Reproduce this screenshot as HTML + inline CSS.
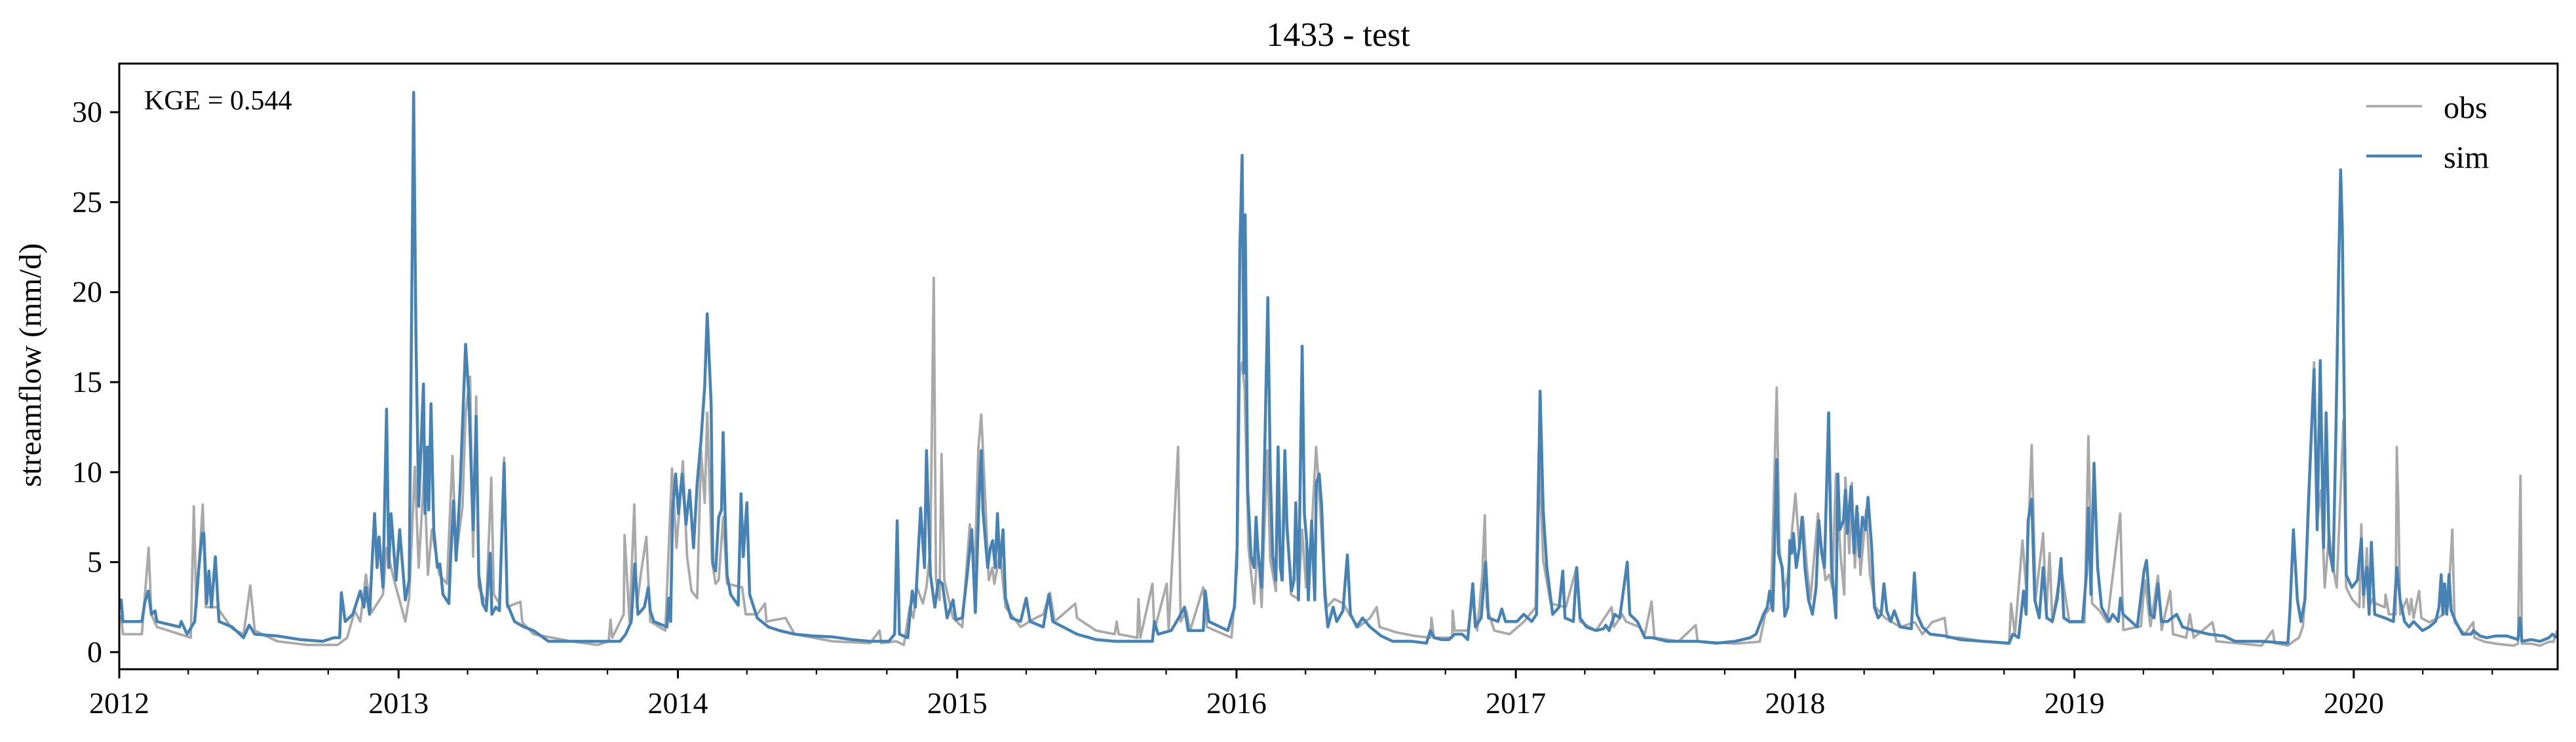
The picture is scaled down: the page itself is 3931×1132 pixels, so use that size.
<!DOCTYPE html>
<html><head><meta charset="utf-8">
<style>
html,body{margin:0;padding:0;background:#fff;}
svg{display:block;font-family:"Liberation Serif",serif;}
</style></head>
<body>
<svg id="chart" width="3931" height="1132" viewBox="0 0 3931 1132" xmlns="http://www.w3.org/2000/svg">
<rect width="3931" height="1132" fill="#fff"/>
<text x="2042" y="70" font-size="52" text-anchor="middle">1433 - test</text>
<text transform="translate(62,557) rotate(-90)" font-size="48" text-anchor="middle">streamflow (mm/d)</text>
<defs><clipPath id="plotclip"><rect x="182" y="97" width="3721" height="924"/></clipPath></defs>
<g id="series" clip-path="url(#plotclip)"></g>
<g id="axes"></g>
<text x="220" y="167" font-size="42">KGE = 0.544</text>
<g>
<line x1="3611" y1="162" x2="3696" y2="162" stroke="#a9a9a9" stroke-width="3.8"/>
<text x="3729" y="180" font-size="48">obs</text>
<line x1="3611" y1="238" x2="3696" y2="238" stroke="#4682b4" stroke-width="4.5"/>
<text x="3729" y="256" font-size="48">sim</text>
</g>
</svg>
<script>
const yTicks = [0, 5, 10, 15, 20, 25, 30];
const xYears = [2012, 2013, 2014, 2015, 2016, 2017, 2018, 2019, 2020];
const xDomain = [2012.0, 2020.73];
const yDomain = [-0.95, 32.7];

const simData = [[2012.000,2.4],[2012.007,2.9],[2012.013,1.7],[2012.081,1.7],[2012.092,2.8],[2012.104,3.4],[2012.115,2.1],[2012.128,2.3],[2012.135,1.7],[2012.216,1.4],[2012.222,1.7],[2012.243,1.0],[2012.270,1.7],[2012.286,4.9],[2012.297,6.6],[2012.303,6.6],[2012.313,2.7],[2012.321,4.5],[2012.330,2.5],[2012.344,5.3],[2012.357,1.7],[2012.404,1.4],[2012.445,0.8],[2012.465,1.5],[2012.485,1.0],[2012.566,0.9],[2012.647,0.7],[2012.728,0.6],[2012.768,0.8],[2012.789,0.8],[2012.795,3.3],[2012.809,1.7],[2012.836,2.1],[2012.863,3.4],[2012.876,2.5],[2012.883,3.6],[2012.896,2.1],[2012.914,7.7],[2012.923,4.7],[2012.930,6.4],[2012.944,3.6],[2012.957,13.5],[2012.965,4.7],[2012.973,7.7],[2012.991,4.0],[2013.004,6.8],[2013.024,2.9],[2013.038,4.0],[2013.054,31.1],[2013.062,17.6],[2013.072,8.1],[2013.089,14.9],[2013.095,7.7],[2013.103,11.4],[2013.108,7.9],[2013.116,13.8],[2013.126,6.8],[2013.139,4.7],[2013.148,4.9],[2013.159,3.2],[2013.180,2.7],[2013.186,5.1],[2013.197,8.4],[2013.206,5.1],[2013.220,9.0],[2013.240,17.1],[2013.251,14.4],[2013.260,10.1],[2013.267,6.8],[2013.278,13.1],[2013.287,4.3],[2013.301,2.7],[2013.314,2.3],[2013.328,5.5],[2013.334,2.1],[2013.348,2.5],[2013.361,2.3],[2013.378,10.5],[2013.389,2.7],[2013.415,1.7],[2013.449,1.4],[2013.483,1.2],[2013.537,0.6],[2013.618,0.6],[2013.698,0.6],[2013.752,0.6],[2013.793,0.6],[2013.813,1.0],[2013.833,1.7],[2013.846,4.9],[2013.857,2.1],[2013.880,2.5],[2013.894,3.6],[2013.901,2.3],[2013.914,1.7],[2013.961,1.4],[2013.967,3.0],[2013.974,1.7],[2013.981,7.9],[2013.992,9.9],[2014.002,7.7],[2014.015,9.9],[2014.029,7.1],[2014.042,9.0],[2014.056,5.8],[2014.069,9.4],[2014.083,11.8],[2014.096,14.8],[2014.105,18.8],
[2014.119,13.8],[2014.125,4.9],[2014.135,4.5],[2014.146,7.5],[2014.156,7.9],[2014.162,12.2],[2014.169,7.7],[2014.176,4.3],[2014.189,3.2],[2014.216,2.6],[2014.226,8.8],[2014.234,5.3],[2014.247,8.3],[2014.257,3.2],[2014.284,1.9],[2014.324,1.4],[2014.364,1.2],[2014.418,1.0],[2014.486,0.9],[2014.553,0.85],[2014.621,0.7],[2014.688,0.6],[2014.755,0.6],[2014.776,1.0],[2014.785,7.3],[2014.793,1.0],[2014.823,0.8],[2014.839,3.4],[2014.850,2.5],[2014.869,8.0],[2014.883,4.7],[2014.890,11.2],[2014.904,4.3],[2014.920,2.5],[2014.933,4.0],[2014.947,3.8],[2014.964,1.9],[2014.985,2.9],[2014.995,1.8],[2015.018,1.9],[2015.036,4.3],[2015.052,6.8],[2015.065,2.2],[2015.079,9.0],[2015.086,11.2],[2015.092,7.9],[2015.109,4.7],[2015.119,5.8],[2015.127,6.2],[2015.136,4.7],[2015.144,7.7],[2015.153,4.7],[2015.164,6.8],[2015.173,3.0],[2015.193,1.9],[2015.227,1.7],[2015.247,3.0],[2015.261,1.7],[2015.308,1.4],[2015.328,3.2],[2015.342,1.7],[2015.429,1.0],[2015.497,0.7],[2015.564,0.6],[2015.632,0.6],[2015.699,0.6],[2015.706,1.7],[2015.719,1.0],[2015.766,1.2],[2015.793,1.9],[2015.814,2.5],[2015.827,1.2],[2015.881,1.2],[2015.888,3.4],[2015.901,1.7],[2015.969,1.2],[2015.993,2.5],[2016.002,5.8],[2016.012,22.4],[2016.020,27.6],[2016.027,15.5],[2016.031,24.3],[2016.040,9.0],[2016.052,5.3],[2016.063,4.7],[2016.070,7.5],[2016.076,5.8],[2016.090,3.6],[2016.101,11.2],[2016.112,19.7],
[2016.121,9.9],[2016.130,5.3],[2016.141,4.0],[2016.149,11.4],[2016.157,4.7],[2016.164,4.0],[2016.173,11.2],[2016.181,6.8],[2016.197,3.4],[2016.206,4.0],[2016.212,8.3],[2016.222,2.9],[2016.235,17.0],[2016.243,7.7],[2016.251,6.2],[2016.257,2.9],[2016.269,7.3],[2016.280,2.9],[2016.286,9.4],[2016.296,9.9],[2016.305,8.1],[2016.316,3.2],[2016.327,1.4],[2016.346,2.5],[2016.359,1.7],[2016.381,2.3],[2016.397,5.4],[2016.408,2.1],[2016.431,1.4],[2016.451,1.9],[2016.478,1.4],[2016.518,0.9],[2016.559,0.6],[2016.626,0.6],[2016.680,0.5],[2016.694,1.2],[2016.707,0.8],[2016.734,0.7],[2016.761,0.7],[2016.781,1.0],[2016.808,1.0],[2016.828,0.7],[2016.846,3.8],[2016.855,1.4],[2016.876,1.9],[2016.892,5.0],[2016.902,1.9],[2016.936,1.7],[2016.950,2.4],[2016.963,1.7],[2017.004,1.7],[2017.028,2.1],[2017.057,1.7],[2017.074,2.1],[2017.087,14.5],[2017.098,7.9],[2017.111,4.7],[2017.132,2.1],[2017.155,2.5],[2017.168,4.5],[2017.176,1.9],[2017.206,1.7],[2017.218,4.7],[2017.230,1.9],[2017.253,1.4],[2017.287,1.2],[2017.314,1.3],[2017.322,1.5],[2017.334,1.2],[2017.354,2.1],[2017.372,1.9],[2017.399,5.0],[2017.408,2.1],[2017.435,1.7],[2017.462,0.8],[2017.489,0.8],[2017.543,0.6],[2017.651,0.6],[2017.718,0.5],[2017.785,0.6],[2017.839,0.8],[2017.860,1.0],[2017.887,2.1],[2017.900,2.5],[2017.909,3.4],[2017.920,2.3],[2017.934,10.7],[2017.940,5.5],[2017.954,4.7],[2017.963,2.0],[2017.974,2.5],[2017.981,6.2],[2017.988,5.5],[2017.994,6.6],[2018.004,4.7],[2018.015,5.8],[2018.025,7.5],[2018.035,4.7],[2018.048,2.9],[2018.062,2.1],[2018.075,3.6],[2018.085,7.3],[2018.095,5.5],[2018.105,4.7],[2018.120,13.3],[2018.130,4.7],
[2018.146,1.9],[2018.153,9.9],[2018.160,6.8],[2018.173,7.3],[2018.180,9.0],[2018.187,6.6],[2018.200,9.2],[2018.211,5.5],[2018.221,8.1],[2018.230,5.3],[2018.241,7.5],[2018.252,6.8],[2018.261,8.6],[2018.274,5.8],[2018.284,2.5],[2018.297,1.9],[2018.308,2.1],[2018.318,3.8],[2018.328,2.3],[2018.342,1.7],[2018.355,2.3],[2018.376,1.4],[2018.416,1.3],[2018.427,4.4],[2018.436,2.1],[2018.456,1.4],[2018.483,1.0],[2018.537,0.9],[2018.591,0.7],[2018.672,0.6],[2018.766,0.5],[2018.780,1.0],[2018.800,0.8],[2018.818,3.4],[2018.827,2.1],[2018.834,7.3],[2018.847,8.5],[2018.858,2.9],[2018.874,1.9],[2018.888,4.7],[2018.901,1.9],[2018.921,1.7],[2018.939,3.0],[2018.952,5.2],[2018.962,1.9],[2018.982,1.7],[2019.029,1.7],[2019.043,4.3],[2019.050,8.0],[2019.059,3.2],[2019.070,10.5],[2019.083,4.7],[2019.097,2.5],[2019.124,1.7],[2019.137,2.1],[2019.157,1.7],[2019.165,3.0],[2019.174,2.1],[2019.225,1.4],[2019.249,4.5],[2019.258,5.1],[2019.272,2.1],[2019.285,1.9],[2019.299,3.8],[2019.312,1.7],[2019.333,1.7],[2019.366,2.1],[2019.387,1.4],[2019.427,1.2],[2019.481,1.0],[2019.535,0.9],[2019.575,0.6],[2019.670,0.6],[2019.764,0.5],[2019.771,2.1],[2019.784,6.8],[2019.798,2.9],[2019.811,1.7],[2019.825,2.9],[2019.838,8.4],[2019.858,15.7],[2019.869,6.8],[2019.880,16.2],[2019.892,5.8],[2019.901,13.3],[2019.912,5.8],[2019.926,4.5],[2019.936,12.2],[2019.946,21.3],[2019.953,26.8],[2019.959,23.5],[2019.973,4.3],[2019.993,3.6],[2020.013,4.0],
[2020.027,6.3],[2020.035,3.2],[2020.047,4.7],[2020.055,2.1],[2020.063,6.1],[2020.075,2.1],[2020.111,1.9],[2020.142,1.7],[2020.154,4.7],[2020.166,2.9],[2020.182,1.7],[2020.198,1.4],[2020.214,1.7],[2020.246,1.2],[2020.270,1.4],[2020.293,1.7],[2020.305,2.5],[2020.313,4.3],[2020.319,2.1],[2020.325,3.8],[2020.333,2.1],[2020.341,4.3],[2020.349,2.3],[2020.365,1.7],[2020.389,1.0],[2020.420,1.0],[2020.428,1.2],[2020.452,0.9],[2020.476,0.8],[2020.508,0.9],[2020.548,0.9],[2020.588,0.7],[2020.595,1.9],[2020.602,0.6],[2020.635,0.7],[2020.667,0.6],[2020.699,0.8],[2020.711,1.0],[2020.727,0.8]];

const obsData = [[2012.000,1.9],[2012.007,2.0],[2012.013,1.0],[2012.081,1.0],[2012.105,5.8],[2012.115,2.1],[2012.135,1.4],[2012.256,0.8],[2012.267,8.1],[2012.276,2.5],[2012.299,8.2],[2012.310,2.5],[2012.350,2.5],[2012.404,1.3],[2012.445,1.0],[2012.469,3.7],[2012.485,1.2],[2012.566,0.6],[2012.674,0.4],[2012.782,0.4],[2012.816,0.8],[2012.843,2.3],[2012.863,1.7],[2012.883,4.3],[2012.903,2.2],[2012.944,3.2],[2012.957,5.8],[2012.984,4.0],[2013.024,1.7],[2013.038,3.0],[2013.058,10.3],[2013.072,4.7],[2013.092,10.1],[2013.105,4.3],[2013.119,6.8],[2013.146,4.3],[2013.173,3.8],[2013.193,10.9],[2013.206,5.3],[2013.229,8.1],[2013.240,13.3],[2013.256,15.3],[2013.267,5.3],[2013.278,14.2],[2013.287,3.6],[2013.314,2.7],[2013.332,9.7],[2013.341,3.2],[2013.361,2.7],[2013.378,10.8],[2013.389,2.5],[2013.436,2.8],[2013.443,1.66],[2013.483,1.0],[2013.550,0.8],[2013.618,0.6],[2013.712,0.4],[2013.752,0.6],[2013.759,1.8],[2013.765,0.8],[2013.806,2.1],[2013.809,6.5],[2013.827,1.7],[2013.844,8.2],[2013.853,2.5],[2013.867,4.3],[2013.887,6.4],[2013.901,1.7],[2013.955,1.2],[2013.979,10.2],[2013.995,5.8],[2014.018,10.6],[2014.033,5.3],[2014.049,3.4],[2014.069,3.0],[2014.083,11.2],[2014.096,8.3],[2014.105,13.3],
[2014.122,5.1],[2014.135,3.8],[2014.146,4.0],[2014.162,7.5],[2014.176,3.8],[2014.230,3.6],[2014.243,2.1],[2014.284,2.1],[2014.312,2.7],[2014.317,1.7],[2014.385,1.9],[2014.418,1.0],[2014.553,0.6],[2014.688,0.5],[2014.722,1.2],[2014.728,0.5],[2014.782,0.6],[2014.809,0.4],[2014.830,2.5],[2014.843,1.9],[2014.856,3.6],[2014.877,2.7],[2014.890,3.6],[2014.904,5.8],[2014.916,20.8],[2014.924,4.0],[2014.937,2.9],[2014.944,11.0],[2014.954,4.0],[2014.985,1.9],[2015.018,1.4],[2015.045,7.1],[2015.063,4.7],[2015.076,11.4],[2015.086,13.2],[2015.099,9.0],[2015.113,4.0],[2015.126,4.7],[2015.133,3.8],[2015.153,5.5],[2015.173,2.5],[2015.227,1.4],[2015.281,1.9],[2015.308,2.1],[2015.332,3.3],[2015.349,1.7],[2015.423,2.7],[2015.429,1.9],[2015.497,1.2],[2015.564,1.0],[2015.571,1.7],[2015.578,1.0],[2015.645,0.8],[2015.649,2.95],[2015.656,0.8],[2015.699,3.8],[2015.706,1.2],[2015.750,3.8],[2015.757,1.2],[2015.791,11.4],[2015.800,1.7],[2015.820,2.3],[2015.834,1.2],[2015.881,3.6],[2015.894,1.4],[2015.982,0.8],[2016.002,4.7],[2016.012,15.5],[2016.020,16.1],[2016.029,14.6],[2016.043,5.8],[2016.063,2.7],[2016.076,6.0],[2016.090,2.5],[2016.110,11.2],
[2016.121,5.1],[2016.141,3.4],[2016.149,9.0],[2016.161,4.0],[2016.175,9.0],[2016.195,3.2],[2016.222,2.95],[2016.235,6.8],[2016.249,3.6],[2016.269,6.8],[2016.285,11.4],[2016.296,9.0],[2016.309,5.3],[2016.323,2.5],[2016.350,2.95],[2016.383,2.7],[2016.404,2.1],[2016.437,1.4],[2016.478,1.9],[2016.502,2.5],[2016.512,1.4],[2016.572,1.1],[2016.640,0.9],[2016.694,0.8],[2016.698,1.9],[2016.707,0.8],[2016.772,0.8],[2016.774,2.3],[2016.781,1.2],[2016.828,1.2],[2016.846,2.95],[2016.862,1.2],[2016.880,4.3],[2016.889,7.6],[2016.896,2.5],[2016.923,1.2],[2016.977,1.0],[2017.030,1.7],[2017.071,2.5],[2017.082,11.2],[2017.098,5.1],[2017.125,2.7],[2017.179,2.5],[2017.217,4.7],[2017.230,1.7],[2017.287,1.2],[2017.343,2.5],[2017.351,1.4],[2017.381,2.1],[2017.394,1.7],[2017.442,1.4],[2017.462,1.0],[2017.486,2.8],[2017.496,0.8],[2017.583,0.6],[2017.644,1.5],[2017.651,0.6],[2017.785,0.47],[2017.873,0.58],[2017.893,2.1],[2017.913,2.5],[2017.934,14.7],[2017.944,5.8],[2017.961,3.4],[2017.974,4.3],[2018.001,8.8],[2018.015,5.8],[2018.028,7.5],[2018.042,4.7],[2018.055,2.95],[2018.082,7.7],[2018.095,5.8],[2018.109,4.0],[2018.122,4.3],
[2018.133,3.6],[2018.146,9.9],[2018.163,5.3],[2018.176,3.2],[2018.180,9.7],[2018.194,5.5],[2018.203,9.4],[2018.214,4.7],[2018.225,7.7],[2018.234,4.3],[2018.254,7.9],[2018.268,4.3],[2018.288,2.5],[2018.322,1.9],[2018.376,1.4],[2018.429,1.66],[2018.456,1.0],[2018.490,1.66],[2018.535,1.9],[2018.544,0.8],[2018.591,0.8],[2018.672,0.6],[2018.766,0.47],[2018.773,2.7],[2018.787,1.0],[2018.814,6.2],[2018.827,3.6],[2018.847,11.5],[2018.861,2.95],[2018.888,6.6],[2018.899,2.1],[2018.911,5.5],[2018.921,1.66],[2018.952,4.7],[2018.982,1.66],[2019.036,1.66],[2019.050,12.0],[2019.063,2.7],[2019.090,2.3],[2019.117,1.66],[2019.164,7.7],[2019.175,1.23],[2019.238,1.44],[2019.252,4.0],[2019.272,1.44],[2019.299,4.25],[2019.312,1.23],[2019.343,3.4],[2019.353,1.0],[2019.400,0.8],[2019.413,2.1],[2019.427,0.8],[2019.494,1.66],[2019.508,0.6],[2019.670,0.36],[2019.710,1.2],[2019.717,0.5],[2019.764,0.36],[2019.784,0.6],[2019.804,0.8],[2019.818,1.44],[2019.825,2.95],[2019.838,7.7],[2019.858,16.1],[2019.869,7.3],[2019.883,9.0],[2019.896,3.6],[2019.912,6.6],[2019.926,4.7],[2019.939,3.6],[2019.953,9.0],[2019.963,12.9],[2019.973,3.6],[2019.993,2.95],[2020.020,2.5],
[2020.027,7.1],[2020.035,2.5],[2020.047,5.76],[2020.055,2.5],[2020.067,2.95],[2020.079,2.7],[2020.111,2.5],[2020.114,3.2],[2020.126,2.1],[2020.150,2.1],[2020.154,11.4],[2020.160,8.1],[2020.166,2.1],[2020.190,2.95],[2020.199,2.1],[2020.206,2.95],[2020.214,1.9],[2020.234,3.4],[2020.242,1.9],[2020.270,1.66],[2020.301,1.9],[2020.321,2.1],[2020.337,2.5],[2020.353,6.8],[2020.361,1.66],[2020.397,1.0],[2020.428,1.66],[2020.432,0.8],[2020.468,0.58],[2020.508,0.47],[2020.572,0.36],[2020.588,0.47],[2020.597,9.8],[2020.602,0.47],[2020.635,0.47],[2020.667,0.36],[2020.699,0.58],[2020.715,0.58],[2020.727,1.2]];

const NS = 'http://www.w3.org/2000/svg';
const X0 = 182, X1 = 3903, Y0 = 1021, Y1 = 97;
function xScale(t){ return X0 + (t - xDomain[0]) / (xDomain[1] - xDomain[0]) * (X1 - X0); }
function yScale(v){ return Y0 - (v - yDomain[0]) / (yDomain[1] - yDomain[0]) * (Y0 - Y1); }

const series = document.getElementById('series');
function drawLine(data, color, width){
  const p = document.createElementNS(NS, 'path');
  p.setAttribute('d', data.map((d,i)=>(i?'L':'M')+xScale(d[0]).toFixed(1)+' '+yScale(d[1]).toFixed(1)).join(''));
  p.setAttribute('fill','none');
  p.setAttribute('stroke',color);
  p.setAttribute('stroke-width',width);
  p.setAttribute('stroke-linejoin','round');
  series.appendChild(p);
  return p;
}
const obsLine = drawLine(obsData, '#a9a9a9', 3.8);


const simLine = drawLine(simData, '#4682b4', 4.5);



const axes = document.getElementById('axes');
const frame = document.createElementNS(NS,'rect');
frame.setAttribute('x',X0); frame.setAttribute('y',Y1);
frame.setAttribute('width',X1-X0); frame.setAttribute('height',Y0-Y1);
frame.setAttribute('fill','none'); frame.setAttribute('stroke','#000'); frame.setAttribute('stroke-width','3');


axes.appendChild(frame);

function mk(tag, attrs){ const e=document.createElementNS(NS,tag); for(const k in attrs) e.setAttribute(k,attrs[k]); axes.appendChild(e); return e; }

yTicks.forEach(v=>{
  const y = yScale(v);
  const tk = mk('line',{x1:X0-14,x2:X0,y1:y,y2:y,stroke:'#000','stroke-width':3});
  
  
  const lb = mk('text',{x:X0-26,y:y+15,'font-size':46,'text-anchor':'end'});
  lb.textContent = v;
  
  
});
xYears.forEach(yr=>{
  const x = xScale(yr);
  const tk = mk('line',{x1:x,x2:x,y1:Y0,y2:Y0+14,stroke:'#000','stroke-width':3});
  
  
  const lb = mk('text',{x:x,y:1088,'font-size':46,'text-anchor':'middle'});
  lb.textContent = yr;
  
  
  [0.247,0.496,0.748].forEach(q=>{
    const t = yr+q;
    if(t < xDomain[1]){
      const xm = xScale(t);
      const mt = mk('line',{x1:xm,x2:xm,y1:Y0,y2:Y0+8,stroke:'#000','stroke-width':2.2});
      
      
    }
  });
});
</script>
</body></html>
